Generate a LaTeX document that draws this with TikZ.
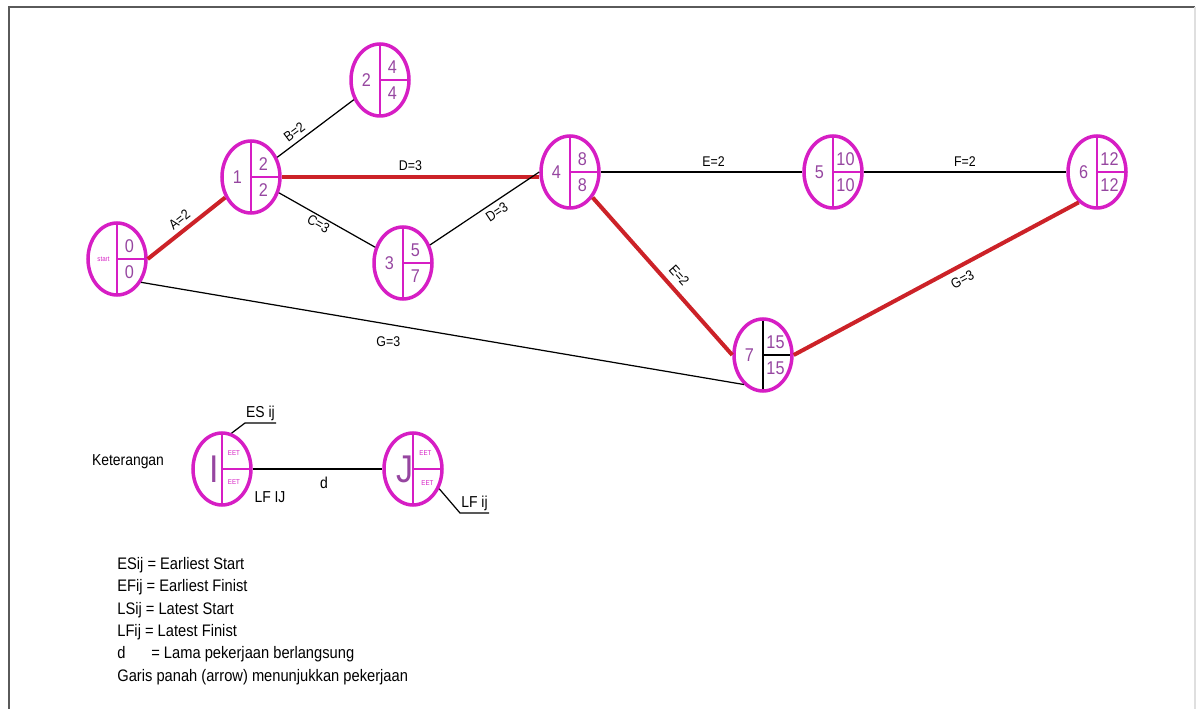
\documentclass[tikz,border=0pt]{standalone}
\usepackage{fontspec}
\setmainfont{Liberation Sans}[FakeStretch=0.88]
\usetikzlibrary{shapes.geometric}

\definecolor{evmag}{RGB}{214,30,196}
\definecolor{evtext}{RGB}{150,70,160}
\definecolor{critred}{RGB}{204,34,40}
\definecolor{framegray}{RGB}{90,90,90}

\tikzset{
  divider/.store in=\evdiv, divider=evmag,
  event/.style={ellipse, draw=evmag, line width=2pt, minimum width=1.16cm, minimum height=1.44cm, inner sep=0pt,
    path picture={\draw[\evdiv, line width=1.5pt] (path picture bounding box.north) -- (path picture bounding box.south)
      (path picture bounding box.center) -- (path picture bounding box.east);}},
  evnum/.style={text=evtext, font=\fontsize{10.5}{10.5}\selectfont, inner sep=0pt},
  evbig/.style={evnum, font=\fontsize{22}{22}\selectfont},
  evtiny/.style={evnum, text=evmag, font=\fontsize{4}{4}\selectfont},
  act/.style={draw=black, line width=0.7pt},
  crit/.style={draw=critred, line width=2.3pt},
  dur/.style={font=\fontsize{8}{9}\selectfont, inner sep=2.5pt},
  note/.style={font=\fontsize{9}{11}\selectfont, inner sep=0pt}
}

% event: [divider colour]{name}{position}{number}{top}{bottom}
\newcommand{\eventnode}[6][evmag]{%
  \node[event, divider=#1] (#2) at (#3) {};
  \node[evnum] (#2-id) at ([xshift=-0.27cm]#2.center) {#4};
  \node[evnum] (#2-es) at ([xshift=0.25cm, yshift=0.26cm]#2.center) {#5};
  \node[evnum] (#2-lf) at ([xshift=0.25cm, yshift=-0.26cm]#2.center) {#6};
}

\begin{document}
\begin{tikzpicture}[x=0.02cm, y=-0.02cm]
\useasboundingbox (0,0) rectangle (1197,709);

% frame
\draw[framegray, line width=1.2pt] (9,715) -- (9,7) -- (1195,7);
\draw[gray!25, line width=0.6pt] (1195,7) -- (1195,715);

% Events
\eventnode{start}{117,259}{\fontsize{4}{4}\selectfont\color{evmag}start}{0}{0}
\eventnode{n1}{251,177}{1}{2}{2}
\eventnode{n2}{380,80}{2}{4}{4}
\eventnode{n3}{403,263}{3}{5}{7}
\eventnode{n4}{570,172}{4}{8}{8}
\eventnode{n5}{833,172}{5}{10}{10}
\eventnode{n6}{1097,172}{6}{12}{12}
\eventnode[black]{n7}{763,355}{7}{15}{15}

% Activities
\draw[crit] (start.east) -- (n1) node[dur, midway, above, sloped] {A=2};
\draw[act] (n1) -- (n2) node[dur, pos=0.3, above, sloped] {B=2};
\draw[act] (n1) -- (n3) node[dur, pos=0.45, below, sloped, inner sep=1pt] {C=3};
\draw[crit] (n1.east) -- (n1.east -| n4.west) node[dur, midway, above] {D=3};
\draw[act] (n3) -- (n4.west) node[dur, pos=0.56, below, sloped] {D=3};
\draw[act] (n4.east) -- (n5.west) node[dur, pos=0.56, above] {E=2};
\draw[act] (n5.east) -- (n6.west) node[dur, midway, above] {F=2};
\draw[crit] (n4) -- (n7.west) node[dur, pos=0.55, above, sloped, inner sep=3.5pt] {E=2};
\draw[crit] (n7.east) -- (n6.239) node[dur, pos=0.57, below, sloped, inner sep=3.5pt] {G=3};
\draw[act] (start.-44) -- (n7.237) node[dur, pos=0.41, below=4pt] {G=3};

% Keterangan
\node[note] (keter) at (128,462) {Keterangan};
\node[event] (evI) at (222,469) {};
\node[evbig] (evI-id) at ([xshift=-0.15cm]evI.center) {I};
\node[evtiny] (evI-es) at ([xshift=0.24cm, yshift=0.31cm]evI.center) {EET};
\node[evtiny] (evI-lf) at ([xshift=0.24cm, yshift=-0.27cm]evI.center) {EET};
\node[event] (evJ) at (413,469) {};
\node[evbig] (evJ-id) at ([xshift=-0.17cm]evJ.center) {J};
\node[evtiny] (evJ-es) at ([xshift=0.25cm, yshift=0.31cm]evJ.center) {EET};
\node[evtiny] (evJ-lf) at ([xshift=0.29cm, yshift=-0.28cm]evJ.center) {EET};
\draw[act] (evI.east) -- (evJ.west) node[note, pos=0.55, below=4pt] {d};

\coordinate (esbend) at (245,423);
\coordinate (esend) at (276,423);
\draw[act] (evI.75) -- (esbend) -- (esend) node[note, midway, above=1pt] {ES ij};
\coordinate (lfbend) at (460,513);
\coordinate (lfend) at (489,513);
\draw[act] (evJ.-37) -- (lfbend) -- (lfend) node[note, midway, above=1pt] {LF ij};
\node[note] (lfIJ) at (270,497) {LF IJ};

\node[note, font=\fontsize{9.5}{12.7}\selectfont, align=left, anchor=north west] (legend) at (117,557)
  {ESij = Earliest Start\\
   EFij = Earliest Finist\\
   LSij = Latest Start\\
   LFij = Latest Finist\\
   d\hspace{1.3em} = Lama pekerjaan berlangsung\\
   Garis panah (arrow) menunjukkan pekerjaan};

\end{tikzpicture}
\end{document}
